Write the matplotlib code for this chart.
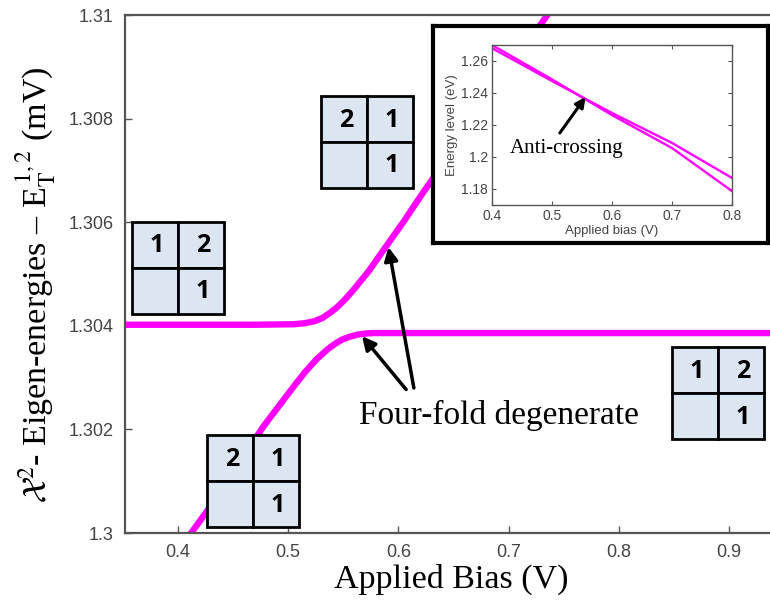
import numpy as np
import matplotlib
matplotlib.use("Agg")
import matplotlib.pyplot as plt
from matplotlib.patches import Rectangle
from matplotlib.ticker import FormatStrFormatter

plt.rcParams['mathtext.fontset'] = 'stix'

# main curves (bias in V, energy)
lower_x = [0.405, 0.412, 0.426, 0.449, 0.478, 0.504, 0.515, 0.526, 0.536, 0.543,
           0.5495, 0.556, 0.563, 0.570, 0.577, 0.600, 0.950]
lower_y = [1.29985, 1.30000, 1.30041, 1.30114, 1.30207, 1.30280, 1.30310, 1.30336,
           1.30355, 1.30366, 1.30374, 1.30379, 1.30383, 1.30385, 1.30386, 1.30386, 1.30386]
upper_x = [0.350, 0.467, 0.505, 0.515, 0.524, 0.531, 0.538, 0.545, 0.552, 0.559,
           0.5725, 0.589, 0.605, 0.621, 0.641, 0.669, 0.696, 0.740]
upper_y = [1.30402, 1.30402, 1.30403, 1.30405, 1.30409, 1.30415, 1.30425, 1.30437,
           1.30452, 1.30469, 1.30504, 1.30554, 1.30602, 1.30653, 1.30714, 1.30797,
           1.30882, 1.31015]

# inset curves
ins_x = [0.4, 0.5, 0.555, 0.6, 0.7, 0.8]
ins_y1 = [1.2700, 1.2485, 1.2362, 1.2262, 1.2056, 1.1787]
ins_y2 = [1.2680, 1.2475, 1.2365, 1.2275, 1.2088, 1.1869]

x_ticks = [0.4, 0.5, 0.6, 0.7, 0.8, 0.9]
y_ticks = [1.3, 1.302, 1.304, 1.306, 1.308, 1.31]
ins_xticks = [0.4, 0.5, 0.6, 0.7, 0.8]
ins_yticks = [1.18, 1.2, 1.22, 1.24, 1.26]

# state boxes: (left px, top px, top-left, top-right, bottom-right)
boxes = [(132, 222, '1', '2', '1'),
         (321, 96, '2', '1', '1'),
         (672, 347, '1', '2', '1'),
         (207, 435, '2', '1', '1')]

W, H = 770, 608
fig = plt.figure(figsize=(7.7, 6.08), dpi=100)
ax = fig.add_axes([125 / W, 1 - 533 / H, 1 - 125 / W + 0.01, (533 - 15) / H])

mag = '#ff00ff'
ax.plot(lower_x, lower_y, color=mag, lw=4.6, solid_capstyle='butt', solid_joinstyle='round')
ax.plot(upper_x, upper_y, color=mag, lw=4.6, solid_capstyle='butt', solid_joinstyle='round')
ax.set_xlim(0.352, 0.944)
ax.set_ylim(1.3, 1.31)
ax.set_xticks(x_ticks)
ax.set_yticks(y_ticks)
ax.xaxis.set_major_formatter(FormatStrFormatter('%g'))
ax.yaxis.set_major_formatter(FormatStrFormatter('%g'))
for s in ax.spines.values():
    s.set_color('#555555')
    s.set_linewidth(1.6)
ax.spines['right'].set_visible(False)
ax.tick_params(direction='in', length=5, width=1, colors='#555555',
               labelcolor='#444444', labelsize=13, pad=8)
for lab in ax.get_xticklabels() + ax.get_yticklabels():
    lab.set_family('Liberation Sans')

ax.set_xlabel('Applied Bias (V)', family='Liberation Serif', fontsize=24.5, labelpad=2)
fig.text(36 / W, 1 - 285 / H,
         r'$\mathcal{X}^{2}$- Eigen-energies – E$_{\mathrm{T}}^{\,1,2}$ (mV)',
         family='Liberation Serif', fontsize=24.5, rotation=90, ha='center', va='center')

# annotation text and arrows
ax.text(0.6908, 1.30226, 'Four-fold degenerate', family='Liberation Serif', fontsize=24,
        ha='center', va='center', zorder=6)
arrow = dict(arrowstyle='-|>,head_length=0.8,head_width=0.4', color='black', lw=2.5,
             shrinkA=0, shrinkB=0)
ax.annotate('', xy=(0.567, 1.30380), xytext=(0.607, 1.30277), arrowprops=arrow, zorder=6)
ax.annotate('', xy=(0.591, 1.30552), xytext=(0.614, 1.30280), arrowprops=arrow, zorder=6)

# state boxes
for (bx, by, a, b, c) in boxes:
    cell = 46
    for i in range(2):
        for j in range(2):
            r = Rectangle(((bx + j * cell) / W, 1 - (by + (i + 1) * cell) / H),
                          cell / W, cell / H, transform=fig.transFigure,
                          facecolor='#dce6f2', edgecolor='black', lw=2, zorder=5)
            fig.patches.append(r)
    for (i, j, t) in [(0, 0, a), (0, 1, b), (1, 1, c)]:
        fig.text((bx + j * cell + cell / 2 + 2) / W, 1 - (by + i * cell + cell / 2 + 1) / H, t,
                 family='Open Sans', fontweight='bold', fontsize=18,
                 ha='center', va='center', zorder=6)

# inset frame
frame = fig.add_axes([433 / W, 1 - 243 / H, 335 / W, 217 / H])
frame.set_xticks([])
frame.set_yticks([])
frame.set_facecolor('white')
for s in frame.spines.values():
    s.set_linewidth(3)
    s.set_color('black')

ins = fig.add_axes([492 / W, 1 - 205 / H, 240 / W, 160 / H])
ins.plot(ins_x, ins_y1, color=mag, lw=1.7)
ins.plot(ins_x, ins_y2, color=mag, lw=1.7)
ins.set_xlim(0.4, 0.8)
ins.set_ylim(1.17, 1.27)
ins.set_xticks(ins_xticks)
ins.set_yticks(ins_yticks)
ins.xaxis.set_major_formatter(FormatStrFormatter('%g'))
ins.yaxis.set_major_formatter(FormatStrFormatter('%g'))
for s in ins.spines.values():
    s.set_color('#555555')
    s.set_linewidth(1)
ins.tick_params(direction='in', length=3, width=0.8, colors='#555555',
                labelcolor='#444444', labelsize=10, pad=3, right=True, top=True)
ins.set_xlabel('Applied bias (V)', fontsize=9.5, color='#444444', family='Liberation Sans', labelpad=1)
ins.set_ylabel('Energy level (eV)', fontsize=9.5, color='#444444', family='Liberation Sans', labelpad=2)
for lab in ins.get_xticklabels() + ins.get_yticklabels():
    lab.set_family('Liberation Sans')
ins.text(0.525, 1.2056, 'Anti-crossing', family='Liberation Serif', fontsize=15,
         ha='center', va='center')
ins.annotate('', xy=(0.556, 1.2375), xytext=(0.513, 1.2150),
             arrowprops=dict(arrowstyle='-|>,head_length=0.6,head_width=0.3',
                             color='black', lw=2.2, shrinkA=0, shrinkB=0))

fig.savefig('out.png', dpi=100)
